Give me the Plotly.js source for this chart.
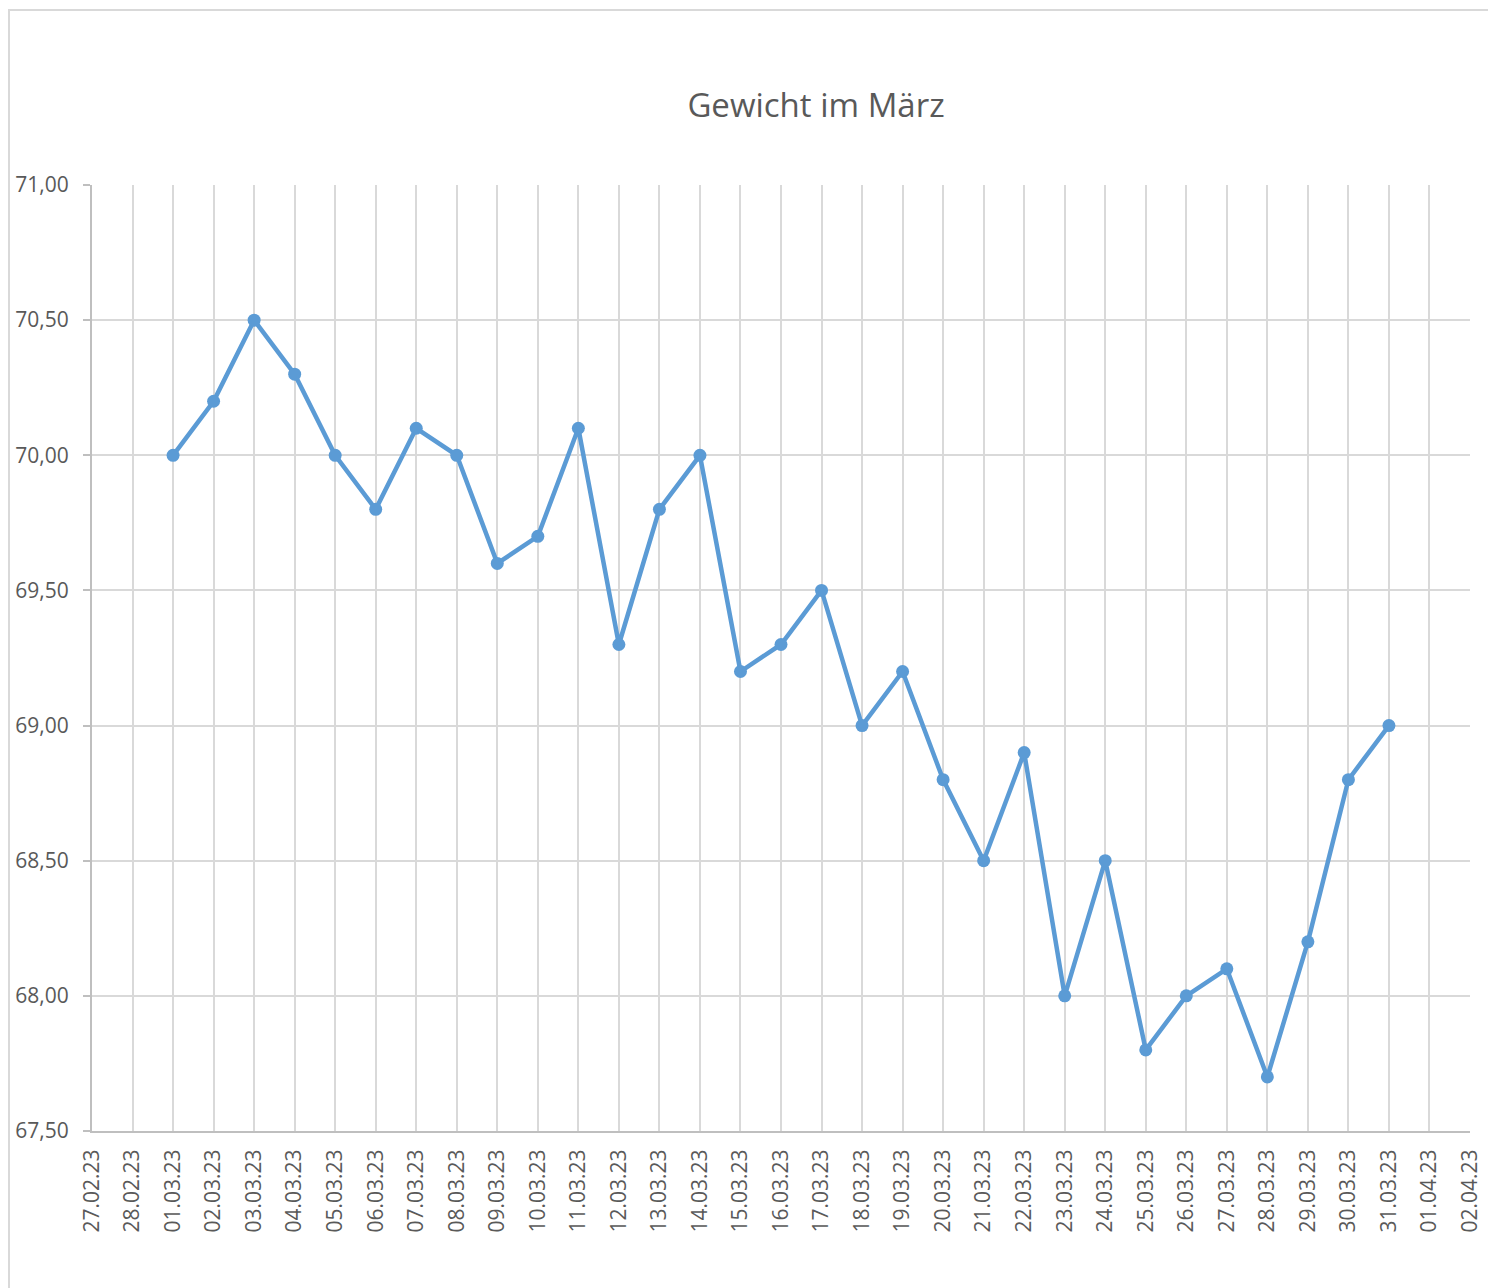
<!DOCTYPE html>
<html><head><meta charset="utf-8">
<script src="https://cdn.plot.ly/plotly-3.0.1.min.js"></script>
<style>
html,body{margin:0;padding:0;background:#fff;overflow:hidden;}
#wrap{position:relative;width:1488px;height:1288px;overflow:hidden;}
#chart{width:1488px;height:1288px;}
#frame{position:absolute;left:8px;top:9px;width:1600px;height:1400px;border-left:2px solid #d9d9d9;border-top:2px solid #d9d9d9;pointer-events:none;}
</style></head>
<body>
<div id="wrap"><div id="chart"></div><div id="frame"></div></div>
<script>
const dates = ["2023-03-01","2023-03-02","2023-03-03","2023-03-04","2023-03-05","2023-03-06","2023-03-07","2023-03-08","2023-03-09","2023-03-10","2023-03-11","2023-03-12","2023-03-13","2023-03-14","2023-03-15","2023-03-16","2023-03-17","2023-03-18","2023-03-19","2023-03-20","2023-03-21","2023-03-22","2023-03-23","2023-03-24","2023-03-25","2023-03-26","2023-03-27","2023-03-28","2023-03-29","2023-03-30","2023-03-31"];
const weights = [70.00,70.20,70.50,70.30,70.00,69.80,70.10,70.00,69.60,69.70,70.10,69.30,69.80,70.00,69.20,69.30,69.50,69.00,69.20,68.80,68.50,68.90,68.00,68.50,67.80,68.00,68.10,67.70,68.20,68.80,69.00];
const xRange = ["2023-02-27","2023-04-02"];
const yRange = [67.5, 71];
const chartTitle = "Gewicht im März";

const font = "'Open Sans', 'Liberation Sans', sans-serif";
Plotly.newPlot('chart', [{
  x: dates, y: weights, type: 'scatter', mode: 'lines+markers',
  line: {color: '#5b9bd5', width: 4.5},
  marker: {color: '#5b9bd5', size: 13, line: {width: 0}},
  hoverinfo: 'x+y'
}], {
  width: 1488, height: 1288,
  paper_bgcolor: 'rgba(0,0,0,0)', plot_bgcolor: '#fff',
  margin: {l: 92, r: 18, t: 185, b: 157, pad: 0},
  separators: ',.',
  showlegend: false,
  title: {text: chartTitle, x: 816/1488, xref: 'container', xanchor: 'center', y: 1-105/1288, yref: 'container', yanchor: 'middle',
          font: {family: font, size: 33, color: '#595959'}},
  xaxis: {
    type: 'date', range: xRange, dtick: 86400000, tick0: xRange[0],
    tickformat: '%d.%m.%y', tickangle: -90,
    showgrid: true, gridcolor: '#d9d9d9', gridwidth: 2,
    showline: true, linecolor: '#bfbfbf', linewidth: 2,
    ticks: '', ticklabelstandoff: 8,
    tickfont: {family: font, size: 21, color: '#595959'},
    zeroline: false, fixedrange: true
  },
  yaxis: {
    range: yRange, dtick: 0.5, tick0: 67.5, tickformat: '.2f',
    showgrid: true, gridcolor: '#d9d9d9', gridwidth: 2,
    showline: true, linecolor: '#bfbfbf', linewidth: 2,
    ticks: 'outside', ticklen: 7, tickcolor: '#bfbfbf', tickwidth: 2,
    ticklabelstandoff: 10,
    tickfont: {family: font, size: 21, color: '#595959'},
    zeroline: false, fixedrange: true
  }
}, {displayModeBar: false, staticPlot: true});
</script>
</body></html>
